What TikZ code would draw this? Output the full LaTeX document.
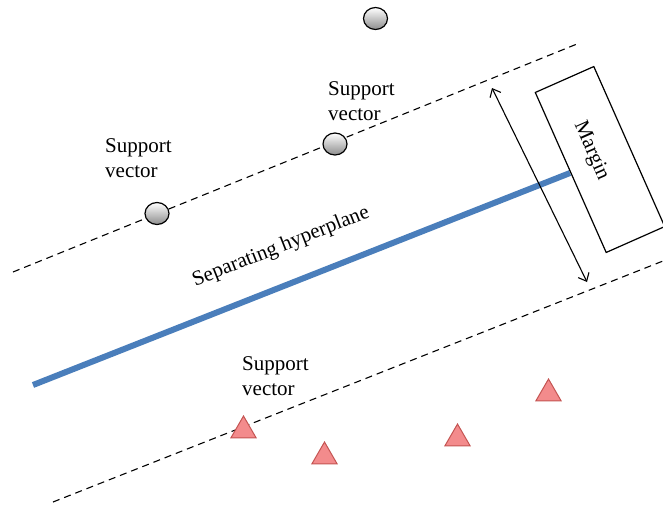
\documentclass[tikz,border=0pt]{standalone}
\usepackage{fontspec}
\setmainfont{Liberation Serif}
\usetikzlibrary{shapes.geometric,arrows.meta}
\definecolor{hyperblue}{RGB}{74,126,187}
\definecolor{trifill}{RGB}{243,139,140}
\definecolor{triedge}{RGB}{196,84,82}
\begin{document}
\begin{tikzpicture}[x=1pt,y=1pt,
  guide/.style={draw=black,line width=1.1pt,dash pattern=on 7pt off 5pt},
  plane/.style={draw=hyperblue,line width=6pt},
  sample/.style={ellipse,draw=black,line width=1.2pt,minimum width=24pt,
    minimum height=22pt,inner sep=0pt,top color=white,bottom color=black!45},
  negsample/.style={regular polygon,regular polygon sides=3,minimum size=29pt,
    inner sep=0pt,fill=trifill,draw=triedge,line width=1pt},
  label/.style={align=left,anchor=north west,inner sep=0pt,
    font=\fontsize{21}{25}\selectfont},
  marginbox/.style={draw=black,line width=1.2pt,minimum width=175pt,
    minimum height=64pt,inner sep=0pt,outer sep=0pt,rotate=-66.1},
  span/.style={draw=black,line width=1.1pt,
    {Straight Barb[length=7pt,width=12pt]}-{Straight Barb[length=7pt,width=12pt]}}
]
\clip (0,0) rectangle (663,-509);

% margin boundaries and the separating line
\coordinate (ua) at (13,-272);
\coordinate (ub) at (577,-44);
\coordinate (la) at (53,-502);
\coordinate (lb) at (663,-261);
\coordinate (ha) at (33,-385);
\coordinate (hb) at (570,-173);
\draw[guide] (ua) -- (ub);
\draw[guide] (la) -- (lb);
\draw[plane] (ha) -- (hb);

% margin width indicator
\node[marginbox] (mbox) at (600,-159.5) {};
\node[rotate=-66.1,font=\fontsize{21}{25}\selectfont,inner sep=0pt] (mtext) at (591,-151) {Margin};
\coordinate (wa) at (492,-88);
\coordinate (wb) at (587,-282);
\draw[span] (wa) -- (wb);

% class samples
\node[sample] (c1) at (375.5,-18.5) {};
\node[sample] (c2) at (335,-144) {};
\node[sample] (c3) at (157,-213.5) {};
\node[negsample] (t1) at (243.5,-430.5) {};
\node[negsample] (t2) at (324.5,-456.5) {};
\node[negsample] (t3) at (457.5,-438.5) {};
\node[negsample] (t4) at (548.5,-393.5) {};

% text
\node[label] (sv1) at (105,-138) {Support\\vector};
\node[label] (sv2) at (328,-81) {Support\\vector};
\node[label] (sv3) at (242,-356) {Support\\vector};
\node[rotate=21.6,font=\fontsize{21}{25}\selectfont,inner sep=0pt] (hyp) at (281,-247) {Separating hyperplane};
\end{tikzpicture}
\end{document}
